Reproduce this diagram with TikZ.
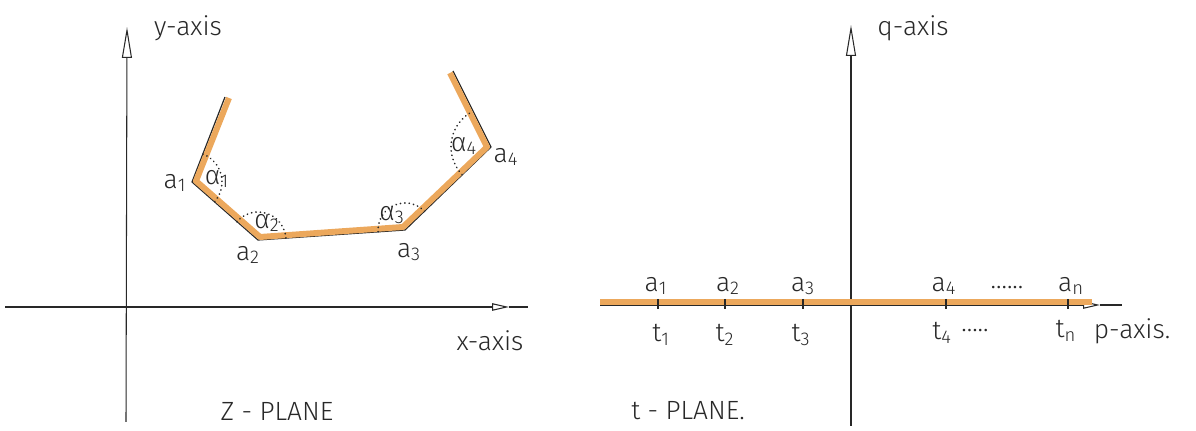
\documentclass[tikz,border=0pt]{standalone}
\usepackage{fontspec}
\setmainfont{Fira Sans Light}
\usetikzlibrary{arrows.meta}
\definecolor{orng}{RGB}{236,168,92}
\definecolor{ink}{RGB}{40,40,40}
\newcommand{\lbsub}[2]{#1\textsubscript{#2}}
\begin{document}
\begin{tikzpicture}[x=0.02cm,y=-0.02cm,
  font=\fontsize{15}{17}\selectfont,
  every node/.style={text=ink, inner sep=1pt},
  axis/.style={line width=0.6pt, draw=ink},
  bigtip/.style={-{Triangle[open,length=0.62cm,width=0.2cm]}},
  smalltip/.style={-{Triangle[open,length=0.34cm,width=0.15cm]}},
  edge/.style={line width=0.7pt, draw=ink, line join=round},
  band/.style={line width=3.4pt, draw=orng, line join=round, line cap=butt},
  angarc/.style={draw=ink, line width=1pt, dash pattern=on 0.1pt off 2.4pt, line cap=round},
  tickmark/.style={line width=0.8pt, draw=ink}]
\useasboundingbox (0,0) rectangle (1196,431);

% ---------- z-plane ----------
\coordinate (yb) at (126,422);
\coordinate (yt) at (127,27);
\draw[axis,bigtip] (yb) -- (yt);
\coordinate (xl) at (5,307);
\coordinate (xa) at (509,307);
\coordinate (xr) at (528,307);
\draw[axis,smalltip] (xl) -- (xa);
\draw[axis] (xa) -- (xr);
\node (ylab) at (188,28) {y-axis};
\node (xlab) at (490,341) {x-axis};
\node (zlab) at (277,411) {Z - PLANE};

% polygon (outer black edge, then orange band)
\coordinate (s0) at (225,97);
\coordinate (a1) at (192,182);
\coordinate (a2) at (258,240);
\coordinate (a3) at (405,230);
\coordinate (a4) at (491,147);
\coordinate (s5) at (453,71);
\draw[edge] (s0) -- (a1) -- (a2) -- (a3) -- (a4) -- (s5);
\coordinate (o0) at (229,98);
\coordinate (o1) at (196,181);
\coordinate (o2) at (260,237);
\coordinate (o3) at (403,227);
\coordinate (o4) at (487,147);
\coordinate (o5) at (450,73);
\draw[band] (o0) -- (o1) -- (o2) -- (o3) -- (o4) -- (o5);

% interior angles
\draw[angarc] (a1) ++(-68.7:30) arc[start angle=-68.7, end angle=40.7, radius=30];
\draw[angarc] (a2) ++(-139.3:28) arc[start angle=-139.3, end angle=-3.9, radius=28];
\draw[angarc] (a3) ++(-183.9:27) arc[start angle=-183.9, end angle=-43.6, radius=27];
\draw[angarc] (a4) ++(136.4:40) arc[start angle=136.4, end angle=242.8, radius=40];

\node (al1) at (217,179) {α\textsubscript{1}};
\node (al2) at (267,223) {α\textsubscript{2}};
\node (al3) at (392,215) {α\textsubscript{3}};
\node (al4) at (464,146) {α\textsubscript{4}};
\node (la1) at (175,183) {\lbsub{a}{1}};
\node (la2) at (248,255) {\lbsub{a}{2}};
\node (la3) at (409,252) {\lbsub{a}{3}};
\node (la4) at (506,157) {\lbsub{a}{4}};

% ---------- t-plane ----------
\coordinate (qb) at (851,426);
\coordinate (qt) at (851,25);
\draw[axis,bigtip] (qb) -- (qt);
\coordinate (pl) at (600,305);
\coordinate (pa) at (1100,305);
\coordinate (pr) at (1122,305);
\draw[axis,smalltip] (pl) -- (pa);
\draw[axis] (pa) -- (pr);
\coordinate (ol) at (600,302);
\coordinate (or) at (1092,302);
\draw[band] (ol) -- (or);
\node (qlab) at (913,28) {q-axis};
\node (tlab) at (688,411) {t - PLANE.};

\foreach \n/\x in {1/658,2/725,3/803,4/946,n/1068}{
  \coordinate (tk\n) at (\x,304);
  \draw[tickmark] (tk\n) ++(0,-5) -- ++(0,10);
}
\node (pa1) at (656,286) {\lbsub{a}{1}};
\node (pa2) at (728,286) {\lbsub{a}{2}};
\node (pa3) at (803,286) {\lbsub{a}{3}};
\node (pa4) at (944,286) {\lbsub{a}{4}};
\node (pdots) at (1007,288) {......};
\node (pan) at (1071,286) {\lbsub{a}{n}};
\node (pt1) at (661,335) {\lbsub{t}{1}};
\node (pt2) at (725,335) {\lbsub{t}{2}};
\node (pt3) at (801,335) {\lbsub{t}{3}};
\node (pt4) at (942,333) {\lbsub{t}{4}};
\node (tdots) at (975,331) {.....};
\node (ptn) at (1066,331) {\lbsub{t}{n}};
\node (plab) at (1132,331) {p-axis.};
\end{tikzpicture}
\end{document}
